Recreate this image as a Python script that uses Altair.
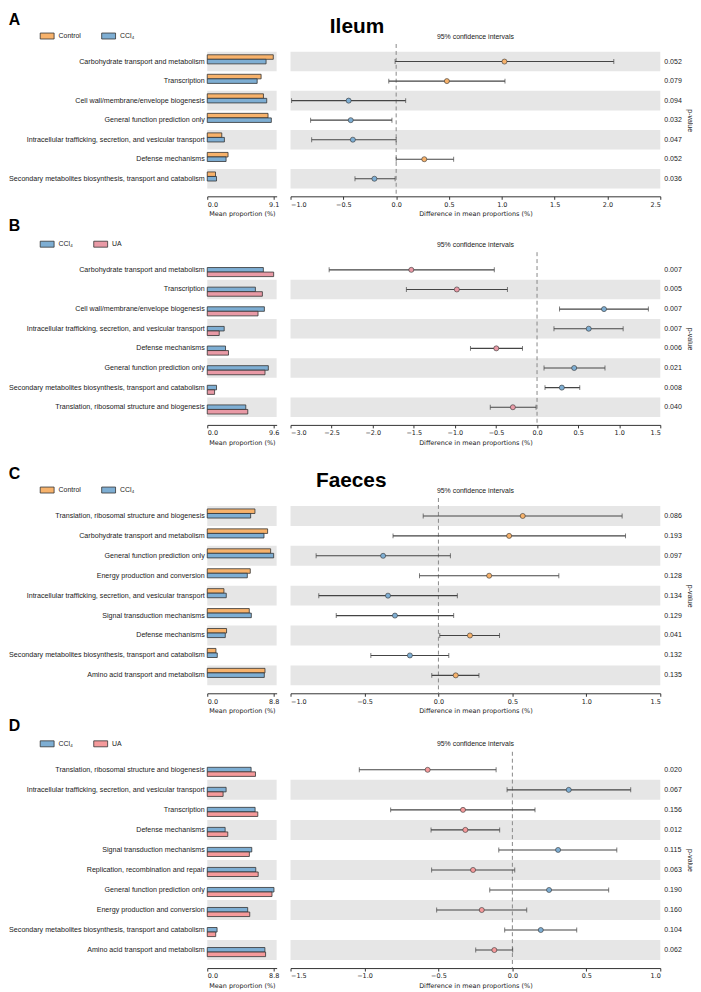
import altair as alt
import pandas as pd

FONT = "Liberation Sans"
TFONT = "DejaVu Sans"
ORANGE = "#F7B26B"
BLUE = "#7EAED3"
PINK = "#E99AA6"
SALMON = "#F59A9B"
GREY = "#E6E6E6"
DARK = "#333333"
CCL4 = "CCl₄"

# ---------------- Panel A (Ileum: Control vs CCl4) ----------------
A_cats = ["Carbohydrate transport and metabolism", "Transcription",
          "Cell wall/membrane/envelope biogenesis", "General function prediction only",
          "Intracellular trafficking, secretion, and vesicular transport", "Defense mechanisms",
          "Secondary metabolites biosynthesis, transport and catabolism"]
A_g1 = [9.05, 7.38, 7.70, 8.33, 1.99, 2.85, 1.13]
A_g2 = [8.06, 6.84, 8.15, 8.78, 2.35, 2.58, 1.27]
A_diff = [1.025, 0.48, -0.45, -0.43, -0.41, 0.266, -0.206]
A_lo = [-0.01, -0.07, -0.99, -0.81, -0.80, 0.0, -0.39]
A_hi = [2.06, 1.03, 0.09, -0.04, 0.0, 0.544, -0.01]
A_p = ["0.052", "0.079", "0.094", "0.032", "0.047", "0.052", "0.036"]

# ---------------- Panel B (Ileum: CCl4 vs UA) ----------------
B_cats = ["Carbohydrate transport and metabolism", "Transcription",
          "Cell wall/membrane/envelope biogenesis",
          "Intracellular trafficking, secretion, and vesicular transport", "Defense mechanisms",
          "General function prediction only",
          "Secondary metabolites biosynthesis, transport and catabolism",
          "Translation, ribosomal structure and biogenesis"]
B_g1 = [8.11, 6.96, 8.26, 2.45, 2.64, 8.83, 1.34, 5.57]
B_g2 = [9.60, 7.97, 7.34, 1.73, 3.07, 8.35, 1.06, 5.86]
B_diff = [-1.53, -0.976, 0.815, 0.629, -0.496, 0.452, 0.302, -0.294]
B_lo = [-2.53, -1.59, 0.274, 0.206, -0.81, 0.085, 0.097, -0.569]
B_hi = [-0.52, -0.36, 1.355, 1.048, -0.177, 0.827, 0.52, -0.012]
B_p = ["0.007", "0.005", "0.007", "0.007", "0.006", "0.021", "0.008", "0.040"]

# ---------------- Panel C (Faeces: Control vs CCl4) ----------------
C_cats = ["Translation, ribosomal structure and biogenesis", "Carbohydrate transport and metabolism",
          "General function prediction only", "Energy production and conversion",
          "Intracellular trafficking, secretion, and vesicular transport",
          "Signal transduction mechanisms", "Defense mechanisms",
          "Secondary metabolites biosynthesis, transport and catabolism",
          "Amino acid transport and metabolism"]
C_g1 = [6.32, 8.00, 8.40, 5.70, 2.21, 5.57, 2.56, 1.15, 7.65]
C_g2 = [5.75, 7.52, 8.80, 5.31, 2.52, 5.84, 2.39, 1.33, 7.56]
C_diff = [0.570, 0.478, -0.374, 0.343, -0.341, -0.294, 0.213, -0.193, 0.117]
C_lo = [-0.103, -0.307, -0.827, -0.128, -0.809, -0.691, 0.009, -0.457, -0.045]
C_hi = [1.242, 1.265, 0.081, 0.814, 0.128, 0.103, 0.413, 0.070, 0.274]
C_p = ["0.086", "0.193", "0.097", "0.128", "0.134", "0.129", "0.041", "0.132", "0.135"]

# ---------------- Panel D (Faeces: CCl4 vs UA) ----------------
D_cats = ["Translation, ribosomal structure and biogenesis",
          "Intracellular trafficking, secretion, and vesicular transport", "Transcription",
          "Defense mechanisms", "Signal transduction mechanisms",
          "Replication, recombination and repair", "General function prediction only",
          "Energy production and conversion",
          "Secondary metabolites biosynthesis, transport and catabolism",
          "Amino acid transport and metabolism"]
D_g1 = [5.81, 2.50, 6.34, 2.37, 5.90, 6.43, 8.84, 5.36, 1.30, 7.64]
D_g2 = [6.39, 2.10, 6.70, 2.72, 5.58, 6.75, 8.58, 5.63, 1.12, 7.73]
D_diff = [-0.573, 0.381, -0.334, -0.318, 0.309, -0.266, 0.248, -0.207, 0.192, -0.122]
D_lo = [-1.035, -0.036, -0.823, -0.55, -0.092, -0.546, -0.153, -0.512, -0.052, -0.248]
D_hi = [-0.11, 0.80, 0.153, -0.086, 0.706, 0.016, 0.651, 0.097, 0.435, 0.002]
D_p = ["0.020", "0.067", "0.156", "0.012", "0.115", "0.063", "0.190", "0.160", "0.104", "0.062"]

WB = 70
WC = 373
SYMBOL = "M-1,-0.43H1V0.43H-1Z"


def make_panel(letter, tissue, tissue_dx, cats, names, colors, v1, v2, diff, lo, hi, pv,
               bar_tick, ci_dom, ci_ticks, step, letter_offset):
    n = len(cats)
    H = step * (n + 0.8)
    rows = pd.DataFrame({"cat": cats, "diff": diff, "lo": lo, "hi": hi, "p": pv})
    rows["shade"] = [(n - 1 - i) % 2 == 0 for i in range(n)]
    rows["grp"] = [names[0] if d > 0 else names[1] for d in diff]
    bars = pd.DataFrame({"cat": cats + cats, "grp": [names[0]] * n + [names[1]] * n,
                         "val": v1 + v2})

    def Y(axis):
        return alt.Y("cat:N", sort=cats,
                     scale=alt.Scale(paddingInner=0, paddingOuter=0.4), axis=axis)

    left_axis = alt.Axis(title=None, ticks=False, domain=False, labelFont=FONT,
                         labelFontSize=7.2, labelColor="#1a1a1a", labelPadding=3,
                         labelLimit=400)
    cscale = alt.Scale(domain=names, range=colors)
    xb = alt.X("val:Q", scale=alt.Scale(domain=[0, bar_tick * 1.045], nice=False),
               axis=alt.Axis(values=[0, bar_tick], format=".1f", title="Mean proportion (%)"))

    band_b = alt.Chart(rows).transform_filter("datum.shade").mark_rect(color=GREY).encode(
        y=Y(left_axis), x=alt.value(0), x2=alt.value(WB))
    bar = alt.Chart(bars).mark_bar(stroke=DARK, strokeWidth=0.8).encode(
        y=Y(left_axis),
        yOffset=alt.YOffset("grp:N", sort=names,
                            scale=alt.Scale(paddingInner=0, paddingOuter=0.65)),
        x=xb,
        color=alt.Color("grp:N", scale=cscale, sort=names,
                        legend=alt.Legend(orient="none", legendX=-169, legendY=-16,
                                          direction="horizontal", title=None,
                                          symbolType=SYMBOL, symbolSize=196,
                                          symbolStrokeColor=DARK, symbolStrokeWidth=0.8,
                                          symbolOpacity=1,
                                          labelFont=FONT, labelFontSize=7,
                                          labelColor="#1a1a1a", columnPadding=18,
                                          labelOffset=4)))
    bprops = dict(width=WB, height=H)
    if tissue:
        bprops["title"] = alt.Title(tissue, anchor="start", dx=tissue_dx, fontSize=21,
                                    font=FONT, fontWeight="bold", color="black", offset=-9)
    bar_chart = alt.layer(band_b, bar).properties(**bprops)

    xsc = alt.Scale(domain=ci_dom, nice=False, zero=False)
    xaxis = alt.Axis(values=ci_ticks, format=".1f", title="Difference in mean proportions (%)")
    right_axis = alt.Axis(orient="right", labels=False, ticks=False, domain=False,
                          title="p-value", titleAngle=90, titlePadding=26,
                          titleFont=FONT, titleFontSize=7, titleFontWeight="normal",
                          titleColor="#1a1a1a")

    band_c = alt.Chart(rows).transform_filter("datum.shade").mark_rect(color=GREY).encode(
        y=Y(right_axis), x=alt.value(0), x2=alt.value(WC))
    zero = alt.Chart(pd.DataFrame({"z": [0.0]})).mark_rule(
        color="#888888", strokeDash=[4, 3], strokeWidth=1).encode(
        x=alt.X("z:Q", scale=xsc, axis=xaxis))
    ci = alt.Chart(rows).mark_rule(color="#444444", strokeWidth=1.1).encode(
        y=Y(right_axis), x=alt.X("lo:Q", scale=xsc, axis=xaxis), x2="hi:Q")
    cap_lo = alt.Chart(rows).mark_tick(color="#444444", orient="vertical", size=5,
                                       thickness=1).encode(
        y=Y(right_axis), x=alt.X("lo:Q", scale=xsc, axis=xaxis))
    cap_hi = alt.Chart(rows).mark_tick(color="#444444", orient="vertical", size=5,
                                       thickness=1).encode(
        y=Y(right_axis), x=alt.X("hi:Q", scale=xsc, axis=xaxis))
    pt = alt.Chart(rows).mark_circle(size=26, opacity=1, stroke=DARK, strokeWidth=0.6).encode(
        y=Y(right_axis), x=alt.X("diff:Q", scale=xsc, axis=xaxis),
        color=alt.Color("grp:N", scale=cscale, legend=None))
    ptxt = alt.Chart(rows).mark_text(align="left", baseline="middle", font=FONT,
                                     fontSize=7.1, color="#1a1a1a").encode(
        y=Y(right_axis), text="p:N", x=alt.value(WC + 4))
    ci_chart = alt.layer(band_c, zero, ci, cap_lo, cap_hi, pt, ptxt).properties(
        width=WC, height=H,
        title=alt.Title("95% confidence intervals", fontSize=7, fontWeight="normal",
                        font=FONT, color="#1a1a1a", offset=4))

    return alt.hconcat(bar_chart, ci_chart, spacing=14, bounds="flush").properties(
        title=alt.Title(letter, anchor="start", fontSize=16, font=FONT, fontWeight="bold",
                        color="black", offset=letter_offset)
    ).resolve_scale(color="independent")


pA = make_panel("A", "Ileum", 324, A_cats, ["Control", CCL4], [ORANGE, BLUE], A_g1, A_g2,
                A_diff, A_lo, A_hi, A_p, 9.1, [-1.0, 2.5],
                [-1.0, -0.5, 0.0, 0.5, 1.0, 1.5, 2.0, 2.5], 19.7, -12)
pB = make_panel("B", None, 0, B_cats, [CCL4, "UA"], [BLUE, PINK], B_g1, B_g2,
                B_diff, B_lo, B_hi, B_p, 9.6, [-3.0, 1.5],
                [-3.0, -2.5, -2.0, -1.5, -1.0, -0.5, 0.0, 0.5, 1.0, 1.5], 19.8, 2)
pC = make_panel("C", "Faeces", 310, C_cats, ["Control", CCL4], [ORANGE, BLUE], C_g1, C_g2,
                C_diff, C_lo, C_hi, C_p, 8.8, [-1.0, 1.5],
                [-1.0, -0.5, 0.0, 0.5, 1.0, 1.5], 20.1, -12)
pD = make_panel("D", None, 0, D_cats, [CCL4, "UA"], [BLUE, SALMON], D_g1, D_g2,
                D_diff, D_lo, D_hi, D_p, 8.8, [-1.5, 1.0],
                [-1.5, -1.0, -0.5, 0.0, 0.5, 1.0], 20.2, 2)

top = alt.vconcat(pA, pB, spacing=1).resolve_scale(color="independent")
bottom = alt.vconcat(pC, pD, spacing=4).resolve_scale(color="independent")

chart = alt.vconcat(top, bottom, spacing=20).resolve_scale(
    color="independent"
).properties(padding=0).configure_view(stroke=None).configure_axis(
    domainColor=DARK, tickColor=DARK, labelFont=TFONT, labelFontSize=6.5,
    labelColor="#1a1a1a", titleFont=TFONT, titleFontSize=6.5, titleFontWeight="normal",
    titleColor="#1a1a1a", grid=False, tickSize=3, labelPadding=2, titlePadding=3
)

chart.save("out.html", embed_options={"renderer": "svg", "actions": False})
